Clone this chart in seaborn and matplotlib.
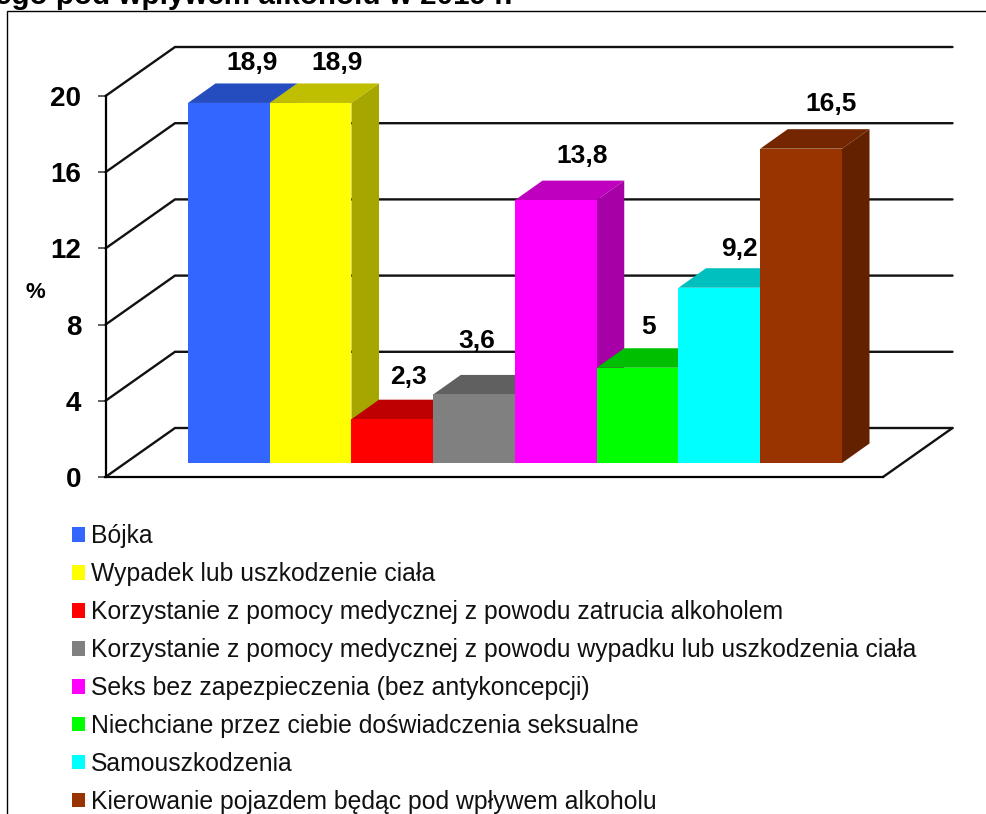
import seaborn as sns
import matplotlib.pyplot as plt
from matplotlib.colors import to_rgb
from matplotlib.patches import Polygon, Rectangle

categories = [
    "Bójka",
    "Wypadek lub uszkodzenie ciała",
    "Korzystanie z pomocy medycznej z powodu zatrucia alkoholem",
    "Korzystanie z pomocy medycznej z powodu wypadku lub uszkodzenia ciała",
    "Seks bez zapezpieczenia (bez antykoncepcji)",
    "Niechciane przez ciebie doświadczenia seksualne",
    "Samouszkodzenia",
    "Kierowanie pojazdem będąc pod wpływem alkoholu",
]
values = [18.9, 18.9, 2.3, 3.6, 13.8, 5, 9.2, 16.5]
value_labels = ["18,9", "18,9", "2,3", "3,6", "13,8", "5", "9,2", "16,5"]
colors = ["#3366FF", "#FFFF00", "#FF0000", "#808080", "#FF00FF", "#00FF00", "#00FFFF", "#993300"]
y_ticks = [0, 4, 8, 12, 16, 20]
title_tail = "ego pod wpływem alkoholu w 2019 r."

# label shift from the bar's top centre, in pixels
label_dx = [23, 26, 16, 3, 26, 11, 20, 30]
label_dy = [40, 40, 42, 53, 44, 41, 39, 45]

W, H = 987, 814
PX_X = 81.75   # pixels per category
PX_Y = 19.05   # pixels per percent
XMIN, XMAX = -0.5 - (188 - 105.5) / PX_X, -0.5 + (883 - 188) / PX_X
WALL_DX, WALL_DY = 69.5 / PX_X, 49 / PX_Y
BAR_DX, BAR_DY = 27.5 / PX_X, 19.5 / PX_Y
LINE = "#111111"


def shade(color, f):
    return tuple(c * f for c in to_rgb(color))


sns.set_style("white")
plt.rcParams["font.family"] = ["Liberation Sans", "DejaVu Sans"]
plt.rcParams["text.color"] = "black"
plt.rcParams["ytick.labelcolor"] = "black"
plt.rcParams["axes.labelcolor"] = "black"

fig = plt.figure(figsize=(W / 100, H / 100), dpi=100)
rect = [105.5 / W, 1 - 477 / H, (883 - 105.5) / W, 381 / H]

# frame with the y axis and the walls
ax_wall = fig.add_axes(rect)
ax_wall.patch.set_visible(False)
ax_wall.set_xlim(XMIN, XMAX)
ax_wall.set_ylim(0, 20)
ax_wall.set_xticks([])
ax_wall.set_yticks(y_ticks)
ax_wall.tick_params(axis="y", left=True, length=6, width=1.2, color="#444444", pad=11.3, labelsize=20,
                    labelcolor="black")
for label in ax_wall.get_yticklabels():
    label.set_fontweight("bold")
sns.despine(ax=ax_wall)
for side in ["left", "bottom"]:
    ax_wall.spines[side].set_linewidth(1.6)
    ax_wall.spines[side].set_color("black")
ax_wall.set_ylabel("%", rotation=0, fontsize=16, fontweight="bold")
ax_wall.yaxis.set_label_coords((35 - 105.5) / (883 - 105.5), (477 - 293) / 381, ax_wall.transAxes)
ax_wall.yaxis.label.set_verticalalignment("center")

for v in y_ticks:
    ax_wall.plot([XMIN, XMIN + WALL_DX, XMAX + WALL_DX], [v, v + WALL_DY, v + WALL_DY],
                 color=LINE, lw=1.7, clip_on=False, solid_joinstyle="miter")
ax_wall.plot([XMAX, XMAX + WALL_DX], [0, WALL_DY], color=LINE, lw=1.7, clip_on=False)

# bars sit a bit behind the front edge of the floor
ax = fig.add_axes(rect)
ax.patch.set_visible(False)
sns.barplot(x=categories, y=values, hue=categories, palette=colors, hue_order=categories,
            order=categories, width=1, saturation=1, legend=False, ax=ax)
ax.set_xlim(XMIN, XMAX)
ax.set_ylim(-14 / PX_Y, 20 - 14 / PX_Y)
ax.set_axis_off()

bars = list(ax.patches)
for i, (bar, color) in enumerate(zip(bars, colors)):
    x0, x1 = bar.get_x(), bar.get_x() + bar.get_width()
    top = bar.get_height()
    bar.set_edgecolor("none")
    bar.set_zorder(3 + i + 0.5)
    ax.add_patch(Polygon([(x0, top), (x1, top), (x1 + BAR_DX, top + BAR_DY), (x0 + BAR_DX, top + BAR_DY)],
                         fc=shade(color, 0.75), ec="none", clip_on=False, zorder=3 + i))
    ax.add_patch(Polygon([(x1, 0), (x1 + BAR_DX, BAR_DY), (x1 + BAR_DX, top + BAR_DY), (x1, top)],
                         fc=shade(color, 0.65), ec="none", clip_on=False, zorder=3 + i))
    ax.annotate(value_labels[i], (i, top), xytext=(label_dx[i] * 0.72, label_dy[i] * 0.72),
                textcoords="offset points", ha="center", va="center",
                fontsize=19, fontweight="bold", zorder=20)

ax.legend(bars, categories, loc="upper left", bbox_to_anchor=(72 / W, 1 - 524 / H),
          bbox_transform=fig.transFigure, frameon=False, fontsize=17.8, borderpad=0, borderaxespad=0,
          handlelength=0.53, handleheight=0.53, handletextpad=0.24, labelspacing=0.566,
          labelcolor="#111111")

# outer frame and the cut off title from the slide
fig.add_artist(Rectangle((7.5 / W, -0.1), 1.1, 1.1 - 11 / H, transform=fig.transFigure,
                         fc="none", ec="black", lw=1))
fig.text(513 / W, 1 - 4 / H, title_tail, ha="right", va="baseline", fontsize=21.3, fontweight="bold")

fig.savefig("out.png", dpi=100)
